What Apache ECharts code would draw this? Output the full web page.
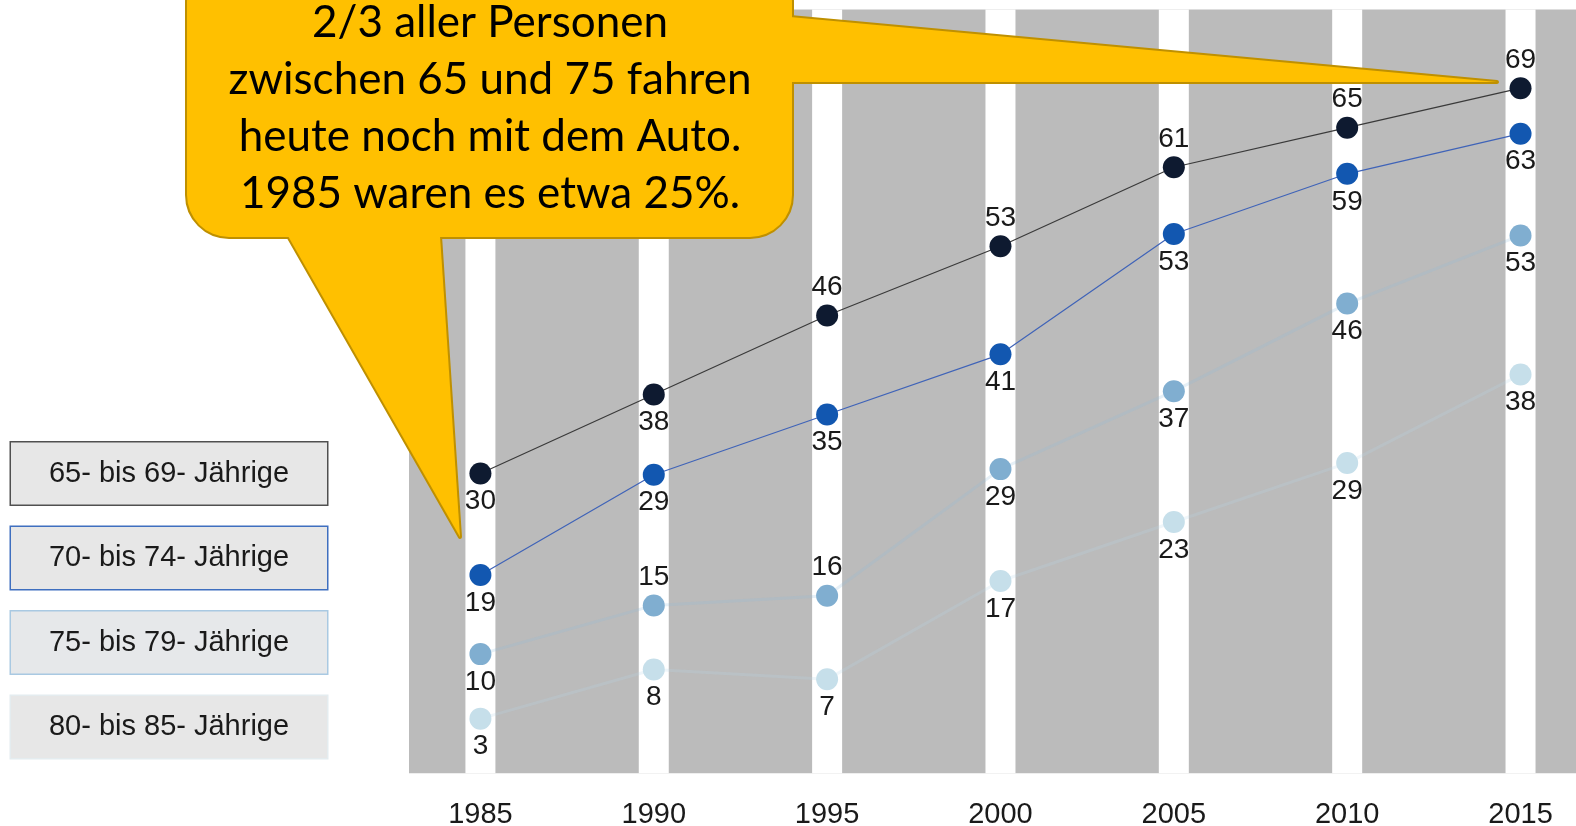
<!DOCTYPE html>
<html>
<head>
<meta charset="utf-8">
<script src="https://cdn.jsdelivr.net/npm/echarts@6/dist/echarts.min.js"></script>
<style>
html,body{margin:0;padding:0;background:#ffffff;}
#chart{width:1576px;height:826px;}
</style>
</head>
<body>
<div id="chart"></div>
<script>
// ---------- data ----------
const years = [1985, 1990, 1995, 2000, 2005, 2010, 2015];
const yearLabels = ['1985', '1990', '1995', '2000', '2005', '2010', '2015'];
const seriesNames = ['65- bis 69- Jährige', '70- bis 74- Jährige', '75- bis 79- Jährige', '80- bis 85- Jährige'];
const age65to69 = [30, 38, 46, 53, 61, 65, 69];
const age70to74 = [19, 29, 35, 41, 53, 59, 63];
const age75to79 = [10, 15, 16, 29, 37, 46, 53];
const age80to85 = [3, 8, 7, 17, 23, 29, 38];
const calloutLines = ['2/3 aller Personen', 'zwischen 65 und 75 fahren', 'heute noch mit dem Auto.', '1985 waren es etwa 25%.'];

// ---------- styles / layout ----------
const X_MIN = 1982.94, X_MAX = 2016.6;
// the infographic places each row on a slightly different vertical scale
const yRanges = [[-0.33, 76.96], [-0.77, 75.38], [-2.24, 76.2], [-2.56, 75.14]];
const labelPositions = [
  ['bottom', 'bottom', 'top', 'top', 'top', 'top', 'top'],
  ['bottom', 'bottom', 'bottom', 'bottom', 'bottom', 'bottom', 'bottom'],
  ['bottom', 'top', 'top', 'bottom', 'bottom', 'bottom', 'bottom'],
  ['bottom', 'bottom', 'bottom', 'bottom', 'bottom', 'bottom', 'bottom']
];
const dotColors = ['#0e1a30', '#1257b0', '#80aed0', '#c6dfea'];
const lineStyles = [
  { color: '#3a3a3a', width: 1.2 },
  { color: '#3f63b8', width: 1.2 },
  { color: 'rgba(140,185,218,0.22)', width: 3 },
  { color: 'rgba(180,214,234,0.22)', width: 3 }
];
const legendBorders = ['#505050', '#3f6fbf', '#a9c9e2', '#e4ecef'];
const FONT = 'Liberation Sans, Arial, Helvetica, sans-serif';

const allValues = [age65to69, age70to74, age75to79, age80to85];

function makeLine(i) {
  return {
    type: 'line',
    name: seriesNames[i],
    xAxisIndex: 0,
    yAxisIndex: i + 1,
    z: 10 - i,
    data: allValues[i].map((v, k) => ({
      value: [years[k], v],
      label: { position: labelPositions[i][k] }
    })),
    symbol: 'circle',
    symbolSize: 22,
    itemStyle: { color: dotColors[i], borderWidth: 0 },
    lineStyle: lineStyles[i],
    label: {
      show: true,
      fontSize: 28,
      lineHeight: 28,
      fontFamily: FONT,
      color: '#1a1a1a',
      distance: 3,
      formatter: p => String(p.value[1])
    },
    emphasis: { disabled: true },
    silent: true,
    animation: false
  };
}

const chart = echarts.init(document.getElementById('chart'), null, { renderer: 'canvas' });

const option = {
  backgroundColor: '#ffffff',
  animation: false,
  grid: {
    left: 409, right: 0, top: 9.5, bottom: 52.7,
    show: true, backgroundColor: '#bbbbbb', borderWidth: 0,
    containLabel: false, outerBoundsMode: 'none'
  },
  xAxis: {
    type: 'value',
    min: X_MIN, max: X_MAX,
    axisLine: { show: false },
    axisTick: { show: false, customValues: years },
    splitLine: { show: false },
    axisLabel: {
      customValues: years,
      formatter: v => yearLabels[years.indexOf(Math.round(v))] || '',
      fontSize: 29, fontFamily: FONT, color: '#1a1a1a', margin: 27
    }
  },
  yAxis: [
    { type: 'value', min: 0, max: 1, show: false, splitLine: { show: false } }
  ].concat(yRanges.map(r => ({ type: 'value', min: r[0], max: r[1], show: false, splitLine: { show: false } }))),
  legend: {
    orient: 'vertical',
    left: 1, top: 436,
    itemGap: 19.5,
    itemWidth: 0, itemHeight: 64,
    icon: 'none',
    selectedMode: false,
    formatter: name => '{t|' + name + '}',
    textStyle: {
      width: 316, height: 62,
      backgroundColor: '#e7e7e7',
      borderWidth: 1.5,
      borderColor: '#505050',
      rich: { t: { align: 'center', fontSize: 29, lineHeight: 62, color: '#1a1a1a', fontFamily: FONT } }
    },
    data: seriesNames.map((n, i) => ({
      name: n,
      textStyle: { borderColor: legendBorders[i], backgroundColor: i === 2 ? '#e6e8ea' : '#e7e7e7' }
    }))
  },
  series: [
    {
      type: 'bar',
      name: 'stripes',
      xAxisIndex: 0,
      yAxisIndex: 0,
      data: years.map(y => [y, 1]),
      barWidth: 30,
      itemStyle: { color: '#ffffff' },
      silent: true,
      z: 1,
      animation: false
    },
    makeLine(3), makeLine(2), makeLine(1), makeLine(0)
  ],
  graphic: [
    // outline layer (thick stroke) - only its outer half stays visible
    { type: 'polygon', z: 100, shape: { points: [[288, 236], [440, 236], [460, 537]] },
      style: { fill: '#BF9000', stroke: '#BF9000', lineWidth: 4, lineJoin: 'round' } },
    { type: 'polygon', z: 100, shape: { points: [[790, 17], [1497, 82], [790, 82]] },
      style: { fill: '#BF9000', stroke: '#BF9000', lineWidth: 4, lineJoin: 'round' } },
    { type: 'rect', z: 100, shape: { x: 187, y: -40, width: 605, height: 277, r: 42 },
      style: { fill: '#BF9000', stroke: '#BF9000', lineWidth: 4 } },
    // fill layer
    { type: 'polygon', z: 101, shape: { points: [[288, 236], [440, 236], [460, 537]] },
      style: { fill: '#FFC000' } },
    { type: 'polygon', z: 101, shape: { points: [[790, 17], [1497, 82], [790, 82]] },
      style: { fill: '#FFC000' } },
    { type: 'rect', z: 101, shape: { x: 187, y: -40, width: 605, height: 277, r: 42 },
      style: { fill: '#FFC000' } },
    { type: 'text', z: 102, x: 490, y: 108,
      style: { text: calloutLines.join('\n'), fontSize: 44, fontFamily: 'Lato, Carlito, sans-serif',
               lineHeight: 57, align: 'center', verticalAlign: 'middle', fill: '#000000' } }
  ]
};

chart.setOption(option);
</script>
</body>
</html>
